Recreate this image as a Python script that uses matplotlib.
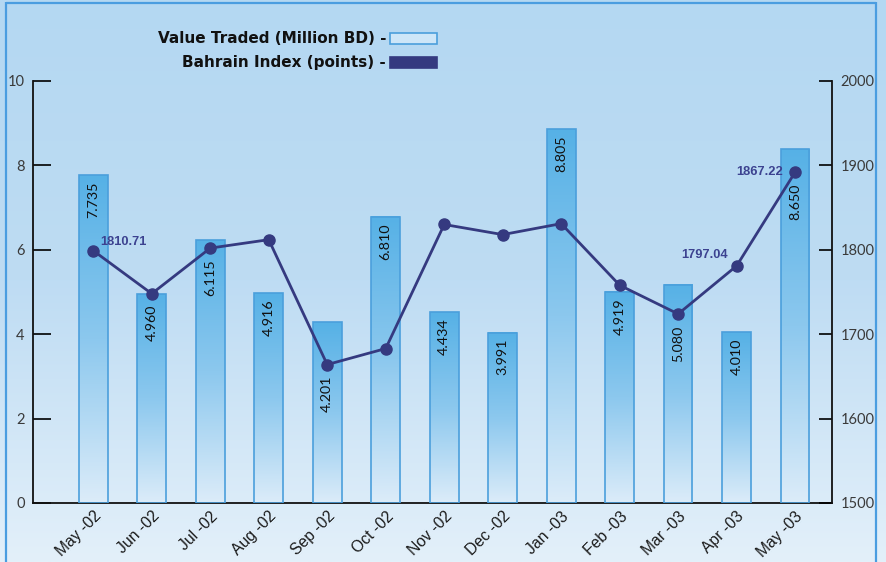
import matplotlib

matplotlib.use("Agg")

import matplotlib.pyplot as plt
import numpy as np
from matplotlib.colors import LinearSegmentedColormap
from matplotlib.patches import Rectangle

months = ["May -02", "Jun -02", "Jul -02", "Aug -02", "Sep -02", "Oct -02", "Nov -02",
          "Dec -02", "Jan -03", "Feb -03", "Mar -03", "Apr -03", "May -03"]
value_traded = [7.77, 4.95, 6.23, 4.97, 4.28, 6.78, 4.52, 4.04, 8.86, 5.01, 5.17, 4.05, 8.38]
value_labels = ["7.735", "4.960", "6.115", "4.916", "4.201", "6.810", "4.434",
                "3.991", "8.805", "4.919", "5.080", "4.010", "8.650"]
bahrain_index = [1799, 1748, 1802, 1812, 1664, 1683, 1830, 1818, 1831, 1758, 1724, 1781, 1892]
left_ticks = [0, 2, 4, 6, 8, 10]
right_ticks = [1500, 1600, 1700, 1800, 1900, 2000]

NAVY = "#353a80"
BAR_EDGE = "#4b9fdc"
W, H = 886, 562

fig = plt.figure(figsize=(W / 100, H / 100), dpi=100)

# background gradient + frame
bg = fig.add_axes([0, 0, 1, 1], zorder=-10)
bg_cmap = LinearSegmentedColormap.from_list("bg", ["#b4d8f2", "#bedcf3", "#e3f0fa"])
bg.imshow(np.linspace(0, 1, 256).reshape(-1, 1), aspect="auto", cmap=bg_cmap,
          extent=[0, 1, 0, 1], origin="upper")
frame_kw = dict(color="#4a9de0", lw=1.6, solid_capstyle="butt")
bg.plot([6 / W, 6 / W], [0, 1 - 2 / H], **frame_kw)
bg.plot([876 / W, 876 / W], [0, 1 - 2 / H], **frame_kw)
bg.plot([6 / W, 876 / W], [1 - 2.5 / H, 1 - 2.5 / H], **frame_kw)

# legend swatches
bg.add_patch(Rectangle((390 / W, 1 - 44 / H), 47 / W, 11 / H, facecolor="#cde6f8",
                       edgecolor=BAR_EDGE, lw=1.2))
bg.add_patch(Rectangle((390 / W, 1 - 68 / H), 47 / W, 11 / H, facecolor=NAVY,
                       edgecolor=NAVY, lw=1.2))
bg.set_xlim(0, 1)
bg.set_ylim(0, 1)
bg.axis("off")

legend_kw = dict(ha="right", va="center", fontsize=11, fontweight="bold",
                 family="DejaVu Sans", color="#111111")
fig.text(386 / W, 1 - 38.5 / H, "Value Traded (Million BD) -", **legend_kw)
fig.text(386 / W, 1 - 62 / H, "Bahrain Index (points) -", **legend_kw)

# main axes
ax = fig.add_axes([33 / W, 1 - 503 / H, (832 - 33) / W, (503 - 81) / H])
ax.patch.set_visible(False)

x = np.arange(len(months))
bar_w = 0.49
bar_cmap = LinearSegmentedColormap.from_list("bar", ["#56b1e6", "#8cc8ee", "#dcecf9"])
grad = np.linspace(0, 1, 256).reshape(-1, 1)
for xi, h in zip(x, value_traded):
    x0 = xi - bar_w / 2
    ax.imshow(grad, extent=[x0, x0 + bar_w, 0, h], aspect="auto", cmap=bar_cmap,
              origin="upper", zorder=2)
    ax.add_patch(Rectangle((x0, 0), bar_w, h, fill=False, edgecolor=BAR_EDGE,
                           lw=1.2, zorder=3))

tick_font = dict(family="Lato", fontsize=10.5, color="#3a3a3a")
ax.set_xlim(-1.03, 12.63)
ax.set_ylim(0, 10)
ax.set_yticks(left_ticks)
ax.set_yticklabels([str(t) for t in left_ticks], **tick_font)
ax.tick_params(axis="y", direction="in", length=13, width=1.2, pad=6)
ax.set_xticks(x)
ax.set_xticklabels(months, rotation=45, ha="right", va="top", rotation_mode="anchor",
                   family="Liberation Sans", fontsize=11.3, color="#1a1a1a")
ax.tick_params(axis="x", length=0, pad=4)
for side in ["top", "right"]:
    ax.spines[side].set_visible(False)
for side in ["left", "bottom"]:
    ax.spines[side].set_linewidth(1.3)
    ax.spines[side].set_color("#111111")

# bar value labels (below the bar top, or below the index point if it sits just under it)
for xi, h, lab, idx in zip(x, value_traded, value_labels, bahrain_index):
    idx_left = (idx - 1500) / 50
    if h - 1.2 < idx_left < h + 0.1:
        top = idx_left - 0.27
    else:
        top = h - 0.15
    ax.text(xi, top, lab, rotation=90, ha="center", va="top", fontsize=10.3,
            family="Lato", color="#111111", zorder=6)

# index line
ax2 = ax.twinx()
ax2.plot(x, bahrain_index, color=NAVY, lw=2, marker="o", ms=8, zorder=5)
ax2.set_ylim(1500, 2000)
ax2.set_yticks(right_ticks)
ax2.set_yticklabels([str(t) for t in right_ticks], **tick_font)
ax2.tick_params(axis="y", direction="in", length=9.5, width=1.2, pad=6)
for side in ["top", "left", "bottom"]:
    ax2.spines[side].set_visible(False)
ax2.spines["right"].set_linewidth(1.3)
ax2.spines["right"].set_color("#111111")

ann_kw = dict(textcoords="offset points", fontsize=9.3, fontweight="bold",
              family="Liberation Sans", color="#3c4290", va="center")
ax2.annotate("1810.71", (x[0], bahrain_index[0]), xytext=(5, 6), ha="left", **ann_kw)
ax2.annotate("1797.04", (x[11], bahrain_index[11]), xytext=(-6.5, 7.5), ha="right", **ann_kw)
ax2.annotate("1867.22", (x[12], bahrain_index[12]), xytext=(-9, 0), ha="right", **ann_kw)

fig.savefig("out.png", dpi=100)
